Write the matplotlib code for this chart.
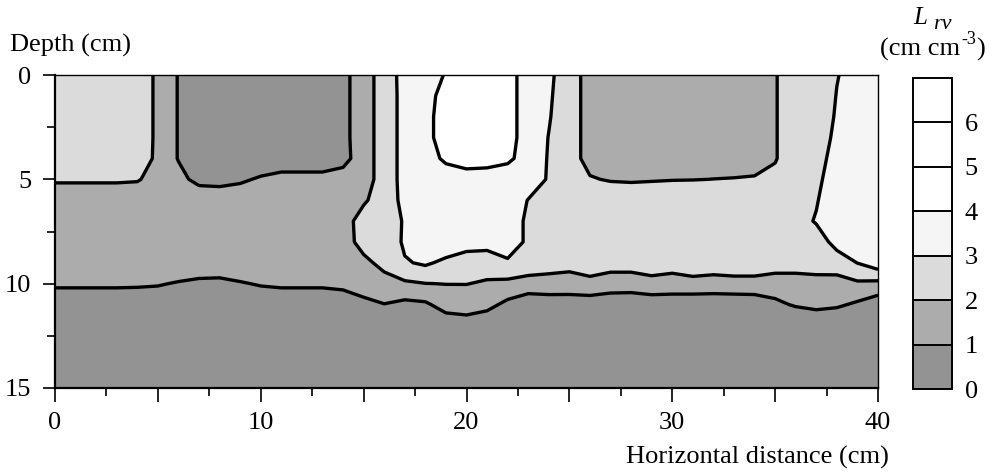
import numpy as np
import matplotlib
matplotlib.use("Agg")
import matplotlib.pyplot as plt
from matplotlib.ticker import FixedLocator, FuncFormatter

plt.rcParams['font.family'] = ['Liberation Serif', 'DejaVu Serif']

# ---- data: root length density Lrv (cm cm-3) read on a 1 cm grid ----
x_cm = list(range(0, 41))          # horizontal distance (cm)
depth_cm = list(range(0, 16))      # depth (cm)

lrv_d00 = [2.5, 2.5, 2.5, 2.5, 2.76, 1.76, 0.95, 0.5, 0.5, 0.5, 0.5, 0.5, 0.5, 0.5, 0.75, 1.5, 2.5, 3.33, 3.3, 4.1, 4.5, 4.5, 4.45, 3.45, 3.16, 2.55, 1.55, 1.5, 1.5, 1.5, 1.5, 1.5, 1.5, 1.5, 1.5, 1.9, 2.9, 2.5, 2.94, 3.5, 3.5]
lrv_d01 = [2.5, 2.5, 2.5, 2.5, 2.76, 1.76, 0.95, 0.5, 0.5, 0.5, 0.5, 0.5, 0.5, 0.5, 0.75, 1.5, 2.5, 3.3, 3.5, 4.5, 4.5, 4.5, 4.45, 3.45, 3.1, 2.55, 1.55, 1.5, 1.5, 1.5, 1.5, 1.5, 1.5, 1.5, 1.5, 1.9, 2.9, 2.05, 3.05, 3.5, 3.5]
lrv_d02 = [2.5, 2.5, 2.5, 2.5, 2.76, 1.76, 0.95, 0.5, 0.5, 0.5, 0.5, 0.5, 0.5, 0.5, 0.75, 1.5, 2.5, 3.3, 3.6, 4.6, 4.5, 4.5, 4.45, 3.45, 3.05, 2.55, 1.55, 1.5, 1.5, 1.5, 1.5, 1.5, 1.5, 1.5, 1.5, 1.9, 2.9, 2.15, 3.15, 3.5, 3.5]
lrv_d03 = [2.5, 2.5, 2.5, 2.5, 2.76, 1.76, 0.95, 0.5, 0.5, 0.5, 0.5, 0.5, 0.5, 0.5, 0.75, 1.5, 2.5, 3.3, 3.6, 4.6, 4.5, 4.5, 4.45, 3.45, 2.98, 2.55, 1.55, 1.5, 1.5, 1.5, 1.5, 1.5, 1.5, 1.5, 1.5, 1.9, 2.9, 2.3, 3.3, 3.5, 3.5]
lrv_d04 = [2.5, 2.5, 2.5, 2.5, 2.65, 1.76, 0.95, 0.5, 0.5, 0.5, 0.15, 0.35, 0.35, 0.35, 0.7, 1.5, 2.5, 3.3, 3.4, 4.25, 4.5, 4.45, 4.25, 3.45, 2.95, 2.55, 1.55, 1.5, 1.5, 1.5, 1.5, 1.5, 1.5, 1.5, 1.5, 1.9, 2.9, 2.5, 3.5, 3.5, 3.5]
lrv_d05 = [2.17, 2.17, 2.17, 2.17, 2.1, 1.55, 1.3, 0.7, 0.65, 0.8, 1.15, 1.35, 1.35, 1.35, 1.4, 1.5, 2.5, 3.3, 3.5, 3.25, 3.5, 3.45, 3.25, 3.85, 2.85, 2.55, 2.1, 1.9, 1.85, 1.9, 1.95, 1.97, 2.01, 2.04, 2.1, 2.35, 2.5, 2.7, 3.7, 3.5, 3.5]
lrv_d06 = [1.17, 1.17, 1.17, 1.17, 1.2, 1.5, 1.9, 1.7, 1.65, 1.8, 1.5, 1.5, 1.5, 1.5, 1.23, 1.84, 2.6, 3.2, 3.5, 3.5, 3.5, 3.5, 3.9, 2.95, 2.2, 2.5, 2.5, 2.9, 2.85, 2.9, 2.95, 2.95, 2.5, 2.5, 2.5, 2.5, 2.5, 2.9, 3.9, 3.5, 3.5]
lrv_d07 = [1.5, 1.5, 1.5, 1.5, 1.5, 1.5, 1.5, 1.5, 1.5, 1.5, 1.5, 1.5, 1.5, 1.5, 1.5, 2.5, 2.15, 3.15, 3.5, 3.5, 3.5, 3.5, 3.75, 2.75, 2.5, 2.5, 2.5, 2.5, 2.5, 2.5, 2.5, 2.5, 2.5, 2.5, 2.5, 2.5, 2.5, 3.1, 3.5, 3.5, 3.5]
lrv_d08 = [1.5, 1.5, 1.5, 1.5, 1.5, 1.5, 1.5, 1.5, 1.5, 1.5, 1.5, 1.5, 1.5, 1.5, 1.45, 2.45, 2.1, 3.2, 3.5, 3.7, 3.45, 3.4, 3.75, 2.75, 2.5, 2.5, 2.5, 2.5, 2.5, 2.5, 2.5, 2.5, 2.5, 2.5, 2.5, 2.5, 2.5, 2.4, 3.4, 3.8, 3.5]
lrv_d09 = [1.5, 1.5, 1.5, 1.5, 1.5, 1.5, 1.9, 1.75, 1.72, 1.9, 1.5, 1.5, 1.5, 1.5, 1.5, 1.7, 2.35, 2.9, 3.15, 2.77, 2.47, 2.42, 2.8, 2.7, 2.5, 2.43, 2.65, 2.45, 2.45, 2.62, 2.5, 2.75, 2.6, 2.7, 2.7, 2.5, 2.5, 2.57, 2.41, 3.02, 3.575]
lrv_d10 = [1.2, 1.2, 1.2, 1.2, 1.17, 1.1, 0.9, 0.75, 0.72, 0.9, 1.1, 1.2, 1.2, 1.2, 1.3, 1.65, 1.55, 1.85, 1.98, 2.02, 2.02, 1.9, 1.78, 1.55, 1.55, 1.43, 1.65, 1.45, 1.45, 1.62, 1.5, 1.6, 1.55, 1.6, 1.6, 1.5, 1.5, 1.57, 1.7, 1.85, 1.75]
lrv_d11 = [0.2, 0.2, 0.2, 0.2, 0.2, 0.2, 0.2, 0.2, 0.2, 0.2, 0.2, 0.2, 0.2, 0.2, 0.3, 0.65, 0.98, 0.75, 0.85, 1.4, 1.5, 1.3, 0.75, 0.4, 0.5, 0.6, 0.5, 0.45, 0.4, 0.45, 0.5, 0.4, 0.4, 0.4, 0.45, 0.8, 1.1, 1.25, 1.15, 0.85, 0.4]
lrv_d12 = [0.5, 0.5, 0.5, 0.5, 0.5, 0.5, 0.5, 0.5, 0.5, 0.5, 0.5, 0.5, 0.5, 0.5, 0.5, 0.5, 0.5, 0.5, 0.5, 0.4, 0.5, 0.3, 0.5, 0.5, 0.5, 0.5, 0.5, 0.5, 0.5, 0.5, 0.5, 0.5, 0.5, 0.5, 0.5, 0.5, 0.1, 0.25, 0.15, 0.5, 0.5]
lrv_d13 = [0.5] * 41
lrv_d14 = [0.5] * 41
lrv_d15 = [0.5] * 41

lrv = np.array([lrv_d00, lrv_d01, lrv_d02, lrv_d03, lrv_d04, lrv_d05, lrv_d06, lrv_d07,
                lrv_d08, lrv_d09, lrv_d10, lrv_d11, lrv_d12, lrv_d13, lrv_d14, lrv_d15])

fill_levels = [0, 1, 2, 3, 4, 5, 6, 7]
line_levels = [1, 2, 3, 4]
fill_colors = ['#939393', '#acacac', '#dbdbdb', '#f5f5f5', '#ffffff', '#ffffff', '#ffffff']
cbar_ticks = [0, 1, 2, 3, 4, 5, 6]
x_major = [0, 5, 10, 15, 20, 25, 30, 35, 40]
x_minor = [2.5, 7.5, 12.5, 17.5, 22.5, 27.5, 32.5, 37.5]
y_major = [0, 5, 10, 15]
y_minor = [2.5, 7.5, 12.5]

FS = 19

fig = plt.figure(figsize=(9.92, 4.72), dpi=100)
ax = fig.add_axes([55 / 992, 1 - 388 / 472, 823 / 992, 313 / 472])

cf = ax.contourf(x_cm, depth_cm, lrv, levels=fill_levels, colors=fill_colors)
ax.contour(x_cm, depth_cm, lrv, levels=line_levels, colors='black', linewidths=2.4)

ax.set_xlim(0, 40)
ax.set_ylim(15, 0)
ax.xaxis.set_major_locator(FixedLocator(x_major))
ax.xaxis.set_minor_locator(FixedLocator(x_minor))
ax.xaxis.set_major_formatter(FuncFormatter(lambda v, p: f"{int(v)}" if v % 10 == 0 else ""))
ax.yaxis.set_major_locator(FixedLocator(y_major))
ax.yaxis.set_minor_locator(FixedLocator(y_minor))
ax.yaxis.set_major_formatter(FuncFormatter(lambda v, p: f"{int(v)}"))

ax.tick_params(axis='x', which='major', direction='out', length=10, width=1.2, pad=7, labelsize=FS)
ax.tick_params(axis='x', which='minor', direction='out', length=6, width=1.2)
ax.tick_params(axis='y', which='major', direction='out', length=9, width=1.2, pad=8, labelsize=FS)
ax.tick_params(axis='y', which='minor', direction='out', length=6, width=1.2)

for side in ['left', 'bottom']:
    ax.spines[side].set_linewidth(1.6)
for side in ['top', 'right']:
    ax.spines[side].set_linewidth(1.0)

# colour bar
cax = fig.add_axes([913 / 992, 1 - 389 / 472, 39 / 992, 311 / 472])
cb = fig.colorbar(cf, cax=cax, ticks=cbar_ticks, drawedges=True)
cb.outline.set_linewidth(1.4)
cb.outline.set_edgecolor('black')
cb.dividers.set_color('black')
cb.dividers.set_linewidth(1.4)
cax.tick_params(length=0, pad=9, labelsize=FS)
cax.set_yticklabels([str(t) for t in cbar_ticks])

fig.text(10 / 992, 1 - 52 / 472, 'Depth (cm)', fontsize=FS, ha='left', va='baseline')
fig.text(889 / 992, 1 - 464 / 472, 'Horizontal distance (cm)', fontsize=FS, ha='right', va='baseline')
# colour-bar title: italic L with lowered "rv"
fig.text(913 / 992, 1 - 24 / 472, 'L', fontsize=18, style='italic', ha='left', va='baseline')
fig.text(933 / 992, 1 - 29 / 472, 'rv', fontsize=16, style='italic', ha='left', va='baseline')
# unit label "(cm cm-3)" built from pieces so the superscript uses a plain hyphen
fig.text(960 / 992, 1 - 56 / 472, '(cm cm', fontsize=FS, ha='right', va='baseline')
fig.text(961 / 992, 1 - 44 / 472, '-3', fontsize=13, ha='left', va='baseline')
fig.text(976 / 992, 1 - 56 / 472, ')', fontsize=FS, ha='left', va='baseline')

fig.savefig('out.png', dpi=100)
